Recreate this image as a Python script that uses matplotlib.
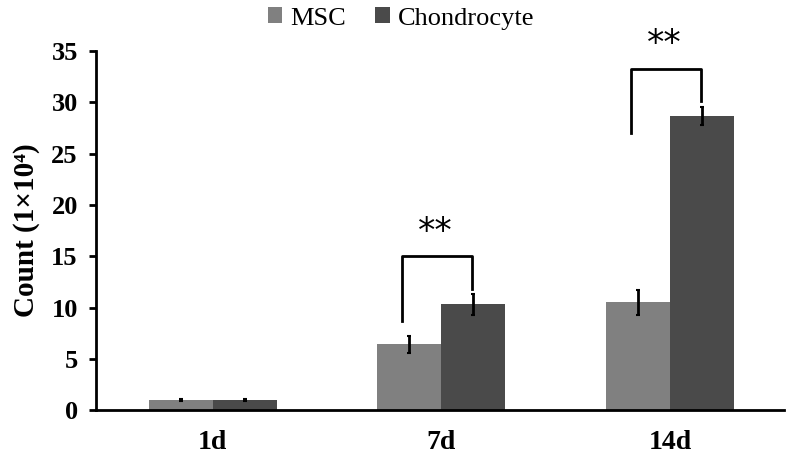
import matplotlib
matplotlib.use('Agg')
import matplotlib.pyplot as plt
import numpy as np

plt.rcParams['font.family'] = ['Liberation Serif', 'DejaVu Serif']

days = ['1d', '7d', '14d']
msc = [1.0, 6.4, 10.5]
msc_err = [0.08, 0.8, 1.2]
chondro = [1.0, 10.3, 28.7]
chondro_err = [0.08, 1.0, 0.9]

# significance brackets: (group, top, left leg bottom, right leg bottom)
brackets = [(1, 15.0, 8.7, 11.8), (2, 33.3, 27.0, 30.1)]

fig = plt.figure(figsize=(7.86, 4.65), dpi=100)
ax = fig.add_axes([0.122, 0.118, 0.876, 0.772])

x = np.arange(len(days))
w = 0.28
ax.bar(x - w/2, msc, w, color='#808080', label='MSC')
ax.bar(x + w/2, chondro, w, color='#4a4a4a', label='Chondrocyte')
ax.errorbar(x - w/2, msc, yerr=msc_err, fmt='none', ecolor='k', elinewidth=2, capsize=1.5, capthick=1.5)
ax.errorbar(x + w/2, chondro, yerr=chondro_err, fmt='none', ecolor='k', elinewidth=2, capsize=1.5, capthick=1.5)

for g, top, lb, rb in brackets:
    xl = g - 0.17
    xr = g + 0.135
    ax.plot([xl, xl, xr, xr], [lb, top, top, rb], color='k', lw=2)
    ax.text(g - 0.025, top + 2.4, '**', ha='center', va='center', fontsize=25,
            fontfamily=['DejaVu Sans'], clip_on=False)

ax.set_xlim(-0.51, 2.5)
ax.set_ylim(0, 35)
ax.set_yticks(range(0, 36, 5))
ax.set_xticks(x)
ax.set_xticklabels(days)
ax.tick_params(axis='x', length=0, pad=14)
ax.tick_params(axis='y', length=5, width=2, direction='out', pad=8)
for lab in ax.get_yticklabels():
    lab.set_fontweight('bold')
    lab.set_fontsize(19)
for lab in ax.get_xticklabels():
    lab.set_fontweight('bold')
    lab.set_fontsize(20)

ax.spines['top'].set_visible(False)
ax.spines['right'].set_visible(False)
ax.spines['left'].set_linewidth(2)
ax.spines['bottom'].set_linewidth(2)

ax.set_ylabel('Count (1×10⁴)', fontsize=21, fontweight='bold', labelpad=8)

fig.legend(loc='upper center', bbox_to_anchor=(0.51, 1.035), ncol=2, frameon=False,
           fontsize=19, handlelength=0.55, handleheight=0.55, handletextpad=0.3, columnspacing=1.1)

fig.savefig('out.png', dpi=100)
